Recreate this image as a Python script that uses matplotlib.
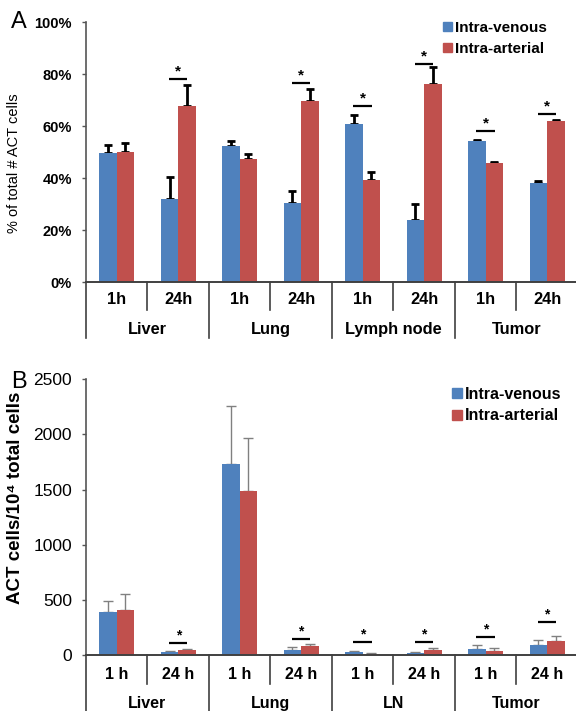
import matplotlib
matplotlib.use("Agg")
import matplotlib.pyplot as plt
from matplotlib.patches import Patch
import numpy as np

# ---------------- data ----------------
sub_labels_A = ["1h", "24h", "1h", "24h", "1h", "24h", "1h", "24h"]
group_labels_A = ["Liver", "Lung", "Lymph node", "Tumor"]
A_iv = [49.5, 32.1, 52.3, 30.2, 60.9, 23.8, 54.4, 38.2]
A_iv_err = [3.3, 8.1, 1.8, 4.9, 3.4, 6.1, 0.3, 0.5]
A_ia = [50.1, 67.7, 47.4, 69.5, 39.1, 76.1, 45.8, 62.0]
A_ia_err = [3.4, 8.0, 2.0, 4.8, 3.4, 6.5, 0.3, 0.4]
A_sig_idx = [1, 3, 4, 5, 6, 7]
A_sig_y = [78.0, 76.5, 67.6, 83.9, 58.2, 64.7]
A_yticks = [0, 20, 40, 60, 80, 100]

sub_labels_B = ["1 h", "24 h", "1 h", "24 h", "1 h", "24 h", "1 h", "24 h"]
group_labels_B = ["Liver", "Lung", "LN", "Tumor"]
B_iv = [393, 27, 1735, 48, 27, 15, 54, 88]
B_iv_err = [100, 9, 523, 22, 12, 15, 34, 51]
B_ia = [411, 42, 1484, 85, 12, 45, 40, 124]
B_ia_err = [145, 15, 484, 18, 8, 15, 22, 48]
B_sig_idx = [1, 3, 4, 5, 6, 7]
B_sig_y = [109, 145, 115, 115, 160, 302]
B_yticks = [0, 500, 1000, 1500, 2000, 2500]

series_names = ["Intra-venous", "Intra-arterial"]
BLUE = "#4F81BD"
RED = "#C0504D"

plt.rcParams['font.family'] = ['Liberation Sans', 'DejaVu Sans']

W, H = 576, 711
DPI = 100
fig = plt.figure(figsize=(W / DPI, H / DPI), dpi=DPI)

PX = 72.0 / DPI  # points per pixel


def make_axes(left, top, bottom):
    return fig.add_axes([left / W, 1 - bottom / H, (W - left) / W, (bottom - top) / H])


axA = make_axes(86, 22, 282)
axB = make_axes(86, 379.3, 655)

x = np.arange(8)
bw = 0.283


def draw_panel(ax, iv, iv_err, ia, ia_err, err_color, err_lw, capsize, capthick):
    z = np.zeros(8)
    ax.bar(x - bw / 2, iv, bw, color=BLUE, zorder=2)
    ax.bar(x + bw / 2, ia, bw, color=RED, zorder=2)
    for xs, v, e in ((x - bw / 2, iv, iv_err), (x + bw / 2, ia, ia_err)):
        ax.errorbar(xs, v, yerr=[z, e], fmt='none', ecolor=err_color,
                    elinewidth=err_lw, capsize=capsize, capthick=capthick, zorder=1)
    ax.set_xlim(-0.5, 7.47)
    for s in ("top", "right"):
        ax.spines[s].set_visible(False)
    ax.spines["left"].set_color("#555555")
    ax.spines["bottom"].set_color("#404040")
    ax.spines["left"].set_linewidth(1.2)
    ax.spines["bottom"].set_linewidth(1.4)
    ax.set_xticks([])
    ax.tick_params(axis='y', direction='out', length=4 * PX, width=1.0,
                   color="#555555", pad=10 * PX)


def draw_sig(ax, idx, ys, lw, star_size):
    for i, yv in zip(idx, ys):
        ax.plot([i - 0.15, i + 0.15], [yv, yv], color="black", lw=lw,
                solid_capstyle='butt', zorder=4)
        ax.annotate("*", xy=(i, yv), xytext=(0, 2.5), textcoords='offset points',
                    ha='center', va='baseline', fontsize=star_size, fontweight='bold')


def draw_categories(ax, subs, groups, ax_h, short_px, long_px, sub_base, grp_base, size):
    tr = ax.get_xaxis_transform()
    for i in range(8):
        ax.annotate(subs[i], xy=(i, 0), xycoords=tr, xytext=(0, -sub_base * PX),
                    textcoords='offset points', ha='center', va='baseline',
                    fontsize=size, fontweight='bold')
    for g in range(4):
        ax.annotate(groups[g], xy=(2 * g + 0.5, 0), xycoords=tr, xytext=(0, -grp_base * PX),
                    textcoords='offset points', ha='center', va='baseline',
                    fontsize=size, fontweight='bold')
    for b in [0.5, 2.5, 4.5, 6.5]:
        ax.plot([b, b], [0, -short_px / ax_h], transform=tr, color="#404040", lw=1.2,
                clip_on=False)
    for b in [-0.5, 1.5, 3.5, 5.5]:
        ax.plot([b, b], [0, -long_px / ax_h], transform=tr, color="#404040", lw=1.2,
                clip_on=False)


# ---------------- Panel A ----------------
draw_panel(axA, A_iv, A_iv_err, A_ia, A_ia_err, "black", 2.0, 2.6, 2.0)
axA.set_ylim(0, 100)
axA.set_yticks(A_yticks)
axA.set_yticklabels([f"{t}%" for t in A_yticks], fontsize=10.5, fontweight='bold')
draw_sig(axA, A_sig_idx, A_sig_y, 1.6, 11)
draw_categories(axA, sub_labels_A, group_labels_A, 260, 28, 56, 22, 52, 11.8)
fig.text(14 / W, 1 - 163 / H, "% of total # ACT cells", rotation=90,
         ha='center', va='center', fontsize=10.5)
fig.text(11 / W, 1 - 28 / H, "A", fontsize=17, ha='left', va='baseline')
axA.legend(handles=[Patch(color=BLUE), Patch(color=RED)], labels=series_names,
           loc='upper left', bbox_to_anchor=(443 / W, 1 - 21 / H),
           bbox_transform=fig.transFigure, frameon=False, borderpad=0,
           handlelength=0.6, handleheight=0.6, handletextpad=0.2,
           labelspacing=0.45, borderaxespad=0,
           prop={'size': 11, 'weight': 'bold'})

# ---------------- Panel B ----------------
draw_panel(axB, B_iv, B_iv_err, B_ia, B_ia_err, "#808080", 1.0, 3.6, 1.0)
axB.set_ylim(0, 2500)
axB.set_yticks(B_yticks)
axB.set_yticklabels([str(t) for t in B_yticks], fontsize=12.5)
draw_sig(axB, B_sig_idx, B_sig_y, 1.6, 10)
draw_categories(axB, sub_labels_B, group_labels_B, 275.7, 29, 60, 24, 53, 11.5)
fig.text(16 / W, 1 - 498 / H, "ACT cells/10⁴ total cells", rotation=90,
         ha='center', va='center', fontsize=13.5, fontweight='bold')
fig.text(11 / W, 1 - 388 / H, "B", fontsize=17, ha='left', va='baseline')
axB.legend(handles=[Patch(color=BLUE), Patch(color=RED)], labels=series_names,
           loc='upper left', bbox_to_anchor=(452 / W, 1 - 387 / H),
           bbox_transform=fig.transFigure, frameon=False, borderpad=0,
           handlelength=0.6, handleheight=0.6, handletextpad=0.2,
           labelspacing=0.4, borderaxespad=0,
           prop={'size': 11.5, 'weight': 'bold'})

fig.savefig("out.png", dpi=DPI)
